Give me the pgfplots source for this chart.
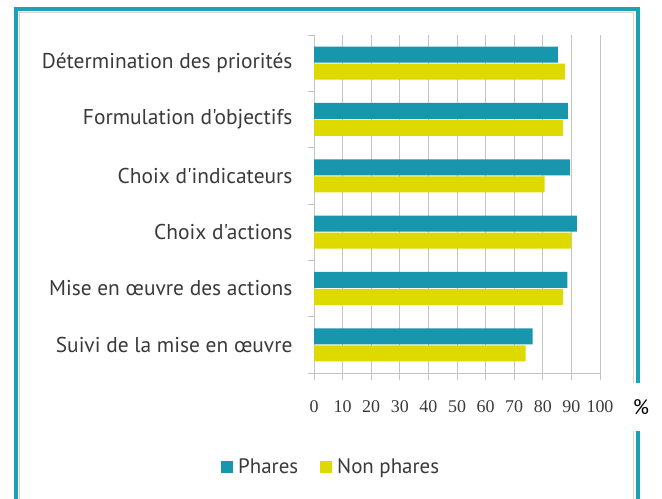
\documentclass[border=0pt]{standalone}
\usepackage{pgfplots}
\pgfplotsset{compat=1.18}
\usepackage{fontspec}
\setmainfont{PT Sans}
\newfontfamily\labfont{PT Sans}
\newfontfamily\numfont{Liberation Serif}
\definecolor{teal}{HTML}{1896AE}
\definecolor{frameteal}{HTML}{1AA3B6}
\definecolor{ylw}{HTML}{DEDA00}
\definecolor{gridgray}{HTML}{C4C4C4}
\definecolor{txt}{HTML}{3A3A3A}

\begin{document}
\begin{tikzpicture}[x=1bp,y=1bp]
\useasboundingbox (0,0) rectangle (662,499);
\fill[white] (0,0) rectangle (662,499);
\begin{scope}
\clip (0,0) rectangle (662,499);
\draw[frameteal, line width=4bp] (15.5,490) rectangle (637.5,-20);
\draw[gridgray!70, line width=1bp] (19,486) rectangle (633,-20);
\end{scope}

\begin{axis}[
  at={(314bp,126bp)}, anchor=south west,
  scale only axis, width=286bp, height=338bp,
  xbar, bar width=16bp,
  xmin=0, xmax=100,
  ymin=-0.5, ymax=5.5, y dir=reverse,
  xtick={0,10,...,100},
  ytick={0,...,5},
  yticklabels={D\'etermination des priorit\'es, Formulation d'objectifs, Choix d'indicateurs, Choix d'actions, Mise en {\oe}uvre des actions, Suivi de la mise en {\oe}uvre},
  minor ytick={-0.5,0.5,...,5.5},
  axis x line*=bottom, axis y line*=left,
  axis line style={gridgray, line width=0.8bp, -},
  xmajorgrids, grid style={gridgray, line width=0.9bp},
  major x tick style={gridgray, line width=0.9bp},
  major y tick style={draw=none},
  minor y tick style={gridgray, line width=0.8bp},
  tick align=outside,
  major tick length=7bp, minor tick length=6bp,
  yticklabel style={font=\labfont\fontsize{21.5}{24}\selectfont, text=txt, xshift=-11bp},
  xticklabel style={font=\numfont\fontsize{18}{21}\selectfont, text=txt, yshift=-17bp},
  /pgf/number format/assume math mode=true,
  legend style={at={(0.06,-0.278)}, anchor=center, draw=none, fill=none,
    legend columns=2, font=\labfont\fontsize{21}{24}\selectfont, text=txt,
    /tikz/every odd column/.append style={column sep=3bp},
    /tikz/every even column/.append style={column sep=20bp}},
  legend image code/.code={\fill[#1] (0bp,-6bp) rectangle (12bp,6bp);},
  clip=false,
]
\addplot[fill=teal, draw=none, bar shift=8.5bp] coordinates {
  (85.3,0) (88.8,1) (89.5,2) (91.9,3) (88.6,4) (76.4,5)};
\addplot[fill=ylw, draw=none, bar shift=-8.5bp] coordinates {
  (87.7,0) (87.0,1) (80.6,2) (90.0,3) (87.0,4) (74.0,5)};
\legend{Phares, Non phares}
\end{axis}

\node[fill=white, inner sep=2bp, minimum height=48bp, font=\labfont\fontsize{21}{24}\selectfont] at (641,92) {\%};
\end{tikzpicture}
\end{document}
